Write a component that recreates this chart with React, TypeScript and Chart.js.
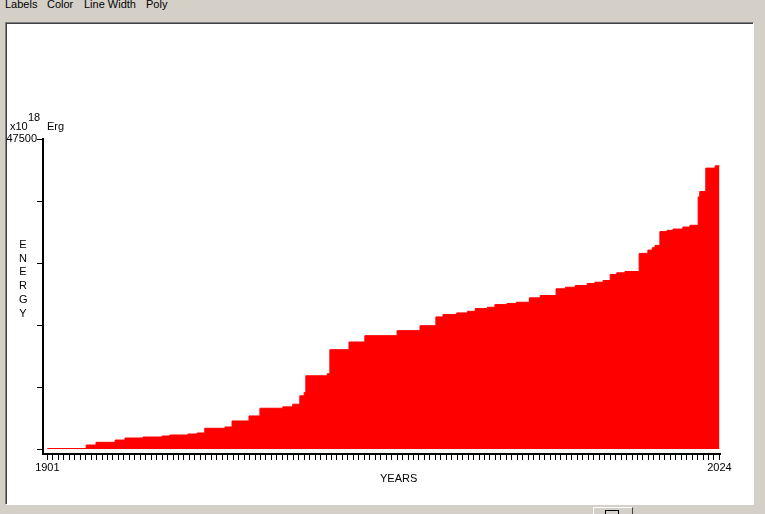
import React, { useEffect, useRef } from 'react';
import { Chart, registerables } from 'chart.js';

Chart.register(...registerables);

// Event dates (decimal years) and cumulative energy (x10^18 Erg)
const eventYears = [
  1901, 1908.1, 1909.9, 1913.4, 1915.2, 1918.5, 1922.0, 1923.4, 1926.7, 1928.4,
  1929.8, 1933.5, 1934.8, 1937.9, 1939.9, 1944.1, 1945.9, 1947.2, 1948.0, 1948.3,
  1952.2, 1952.7, 1956.2, 1959.1, 1965.0, 1969.2, 1972.1, 1973.4, 1975.9, 1977.9,
  1979.3, 1981.5, 1982.9, 1985.1, 1986.8, 1989.2, 1991.2, 1994.1, 1995.8, 1997.6,
  1999.8, 2001.2, 2002.7, 2004.0, 2005.2, 2006.7, 2009.3, 2010.9, 2011.7, 2012.2,
  2013.1, 2014.4, 2015.5, 2017.3, 2018.6, 2020.1, 2020.4, 2021.5, 2023.2, 2024,
];
const cumulativeEnergy = [
  80, 615, 1030, 1380, 1690, 1840, 2000, 2150, 2300, 2460,
  3180, 3380, 4300, 5070, 6250, 6460, 6870, 8150, 8650, 11220,
  11530, 15220, 16400, 17370, 18140, 18900, 20240, 20600, 20860, 21100,
  21520, 21720, 22130, 22290, 22490, 23160, 23520, 24550, 24790, 25050,
  25360, 25560, 25820, 26740, 27000, 27200, 29970, 30480, 30850, 31200,
  33310, 33510, 33700, 34010, 34280, 38630, 39450, 43040, 43390, 43390,
];

const firstYear = 1901;
const lastYear = 2024;
const xTickLabels = ['1901', '2024'];
const yTickValues = [0, 9500, 19000, 28500, 38000, 47500];
const yTickLabels = ['47500'];
const yAxisLetters = ['E', 'N', 'E', 'R', 'G', 'Y'];
const menuItems = [
  { label: 'Labels', left: 5 },
  { label: 'Color', left: 47 },
  { label: 'Line Width', left: 84 },
  { label: 'Poly', left: 146 },
];

const FONT = '"Liberation Sans", Arial, sans-serif';

export default function App() {
  const canvasRef = useRef<HTMLCanvasElement | null>(null);

  useEffect(() => {
    const canvas = canvasRef.current;
    if (!canvas) return;
    const yearTicks: number[] = [];
    for (let y = firstYear; y <= lastYear; y++) yearTicks.push(y);
    const points = eventYears.map((x, i) => ({ x, y: cumulativeEnergy[i] }));

    const chart = new Chart(canvas, {
      type: 'line',
      data: {
        datasets: [
          {
            data: points,
            stepped: 'before',
            fill: 'origin',
            backgroundColor: '#ff0000',
            borderColor: '#ff0000',
            borderWidth: 1,
            pointRadius: 0,
          },
        ],
      },
      options: {
        animation: false,
        responsive: false,
        devicePixelRatio: 1,
        events: [],
        layout: { padding: { top: 139, right: 45, left: 0, bottom: 0 } },
        plugins: { legend: { display: false }, tooltip: { enabled: false } },
        scales: {
          x: {
            type: 'linear',
            min: 1900.2,
            max: 2024.1,
            afterBuildTicks: (s: any) => {
              s.ticks = yearTicks.map((v) => ({ value: v }));
            },
            afterFit: (s: any) => {
              s.height = 60;
            },
            grid: { drawOnChartArea: false, drawTicks: true, tickLength: 6, color: '#000', lineWidth: 1 },
            border: { display: true, color: '#000', width: 2 },
            ticks: {
              autoSkip: false,
              maxRotation: 0,
              minRotation: 0,
              padding: 1,
              color: '#000',
              font: { family: FONT, size: 11 },
              callback: (v: any) => (xTickLabels.includes(String(v)) ? String(v) : ''),
            },
          },
          y: {
            type: 'linear',
            min: -760,
            max: 47500,
            afterBuildTicks: (s: any) => {
              s.ticks = yTickValues.map((v) => ({ value: v }));
            },
            afterFit: (s: any) => {
              s.width = 43;
            },
            grid: { drawOnChartArea: false, drawTicks: true, tickLength: 6, color: '#000', lineWidth: 1 },
            border: { display: true, color: '#000', width: 2 },
            ticks: {
              autoSkip: false,
              padding: 0,
              color: '#000',
              font: { family: FONT, size: 11 },
              callback: (v: any) => (yTickLabels.includes(String(v)) ? String(v) : ''),
            },
          },
        },
      },
    } as any);
    return () => chart.destroy();
  }, []);

  const txt: React.CSSProperties = {
    position: 'absolute',
    fontFamily: FONT,
    fontSize: 11,
    lineHeight: '13px',
    color: '#000',
    whiteSpace: 'nowrap',
  };

  return (
    <div
      style={{
        position: 'fixed',
        left: 0,
        top: 0,
        width: 765,
        height: 514,
        background: '#d4d0c8',
        overflow: 'hidden',
      }}
    >
      {menuItems.map((m) => (
        <div key={m.label} style={{ ...txt, left: m.left, top: -2 }}>
          {m.label}
        </div>
      ))}
      <div
        style={{
          position: 'absolute',
          left: 5,
          top: 22,
          width: 749,
          height: 483,
          background: '#ffffff',
          borderTop: '1px solid #808080',
          borderLeft: '1px solid #808080',
          borderRight: '1px solid #ffffff',
          borderBottom: '1px solid #ffffff',
          boxShadow: 'inset 1px 1px 0 #404040',
          boxSizing: 'border-box',
        }}
      />
      <div
        style={{
          position: 'absolute',
          left: 593,
          top: 507,
          width: 40,
          height: 10,
          background: '#d4d0c8',
          borderTop: '1px solid #ffffff',
          borderLeft: '1px solid #ffffff',
          borderRight: '1px solid #404040',
          boxSizing: 'border-box',
        }}
      >
        <div style={{ position: 'absolute', left: 11, top: 2, width: 14, height: 6, border: '1px solid #000', boxSizing: 'border-box' }} />
      </div>
      <canvas
        ref={canvasRef}
        width={765}
        height={514}
        style={{ position: 'absolute', left: 0, top: 0, width: 765, height: 514 }}
      />
      <div style={{ ...txt, left: 10, top: 120 }}>x10</div>
      <div style={{ ...txt, left: 28, top: 111 }}>18</div>
      <div style={{ ...txt, left: 47, top: 120 }}>Erg</div>
      {yAxisLetters.map((ch, i) => (
        <div key={i} style={{ ...txt, left: 19, top: 238 + i * 13.7, width: 8, textAlign: 'center' }}>
          {ch}
        </div>
      ))}
      <div style={{ ...txt, left: 380, top: 472 }}>YEARS</div>
    </div>
  );
}
